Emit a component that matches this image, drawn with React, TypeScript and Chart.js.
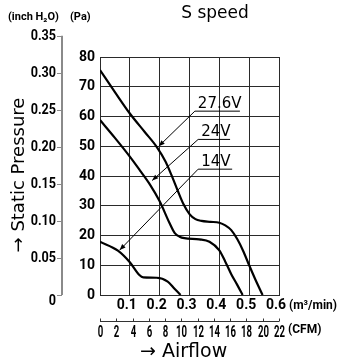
import React, { useEffect, useRef } from 'react';
import { Chart, registerables } from 'chart.js';

Chart.register(...registerables);

// Airflow (m³/min) and static pressure (Pa) for each supply voltage
const flow276 = [0, 0.05, 0.1, 0.15, 0.19, 0.22, 0.24, 0.26, 0.28, 0.3, 0.32, 0.34, 0.37, 0.4, 0.42, 0.44, 0.46, 0.48, 0.5, 0.52, 0.545];
const pa276 = [75.6, 68.2, 61, 54.8, 49.8, 44.8, 40.2, 35.2, 30.5, 27.2, 25.5, 24.9, 24.6, 24.3, 23.4, 21.8, 18.8, 14.8, 10, 5.4, 0];

const flow24 = [0, 0.05, 0.1, 0.133, 0.167, 0.2, 0.233, 0.25, 0.267, 0.283, 0.333, 0.367, 0.4, 0.42, 0.44, 0.46, 0.478];
const pa24 = [58.8, 52.8, 46.5, 42, 37.2, 31.5, 24.2, 20.9, 19.6, 19.1, 18.7, 17.9, 15, 11.2, 7, 3.4, 0];

const flow14 = [0, 0.06, 0.1, 0.132, 0.145, 0.19, 0.227, 0.249, 0.27];
const pa14 = [17.9, 14.9, 11, 6.7, 5.9, 5.8, 4.5, 2.2, 0];

const seriesNames = ['27.6V', '24V', '14V'];

// Axis ticks
const flowTicks = [0, 0.1, 0.2, 0.3, 0.4, 0.5, 0.6];
const flowTickLabels = ['', '0.1', '0.2', '0.3', '0.4', '0.5', '0.6'];
const paTicks = [0, 10, 20, 30, 40, 50, 60, 70, 80];
const paTickLabels = ['0', '10', '20', '30', '40', '50', '60', '70', '80'];
const inchTicks = [0, 0.05, 0.1, 0.15, 0.2, 0.25, 0.3, 0.35];
const inchTickLabels = ['0', '0.05', '0.10', '0.15', '0.20', '0.25', '0.30', '0.35'];
const cfmTicks = [0, 2, 4, 6, 8, 10, 12, 14, 16, 18, 20, 22];
const cfmTickLabels = ['0', '2', '4', '6', '8', '10', '12', '14', '16', '18', '20', '22'];

const PA_PER_INCH_H2O = 249.09;

// Callout placement in data units (underline start/end, arrow tip on the curve)
const callouts = [
  { name: seriesNames[0], lineFrom: [0.318, 61.8], lineTo: 0.469, tip: [0.197, 50] },
  { name: seriesNames[1], lineFrom: [0.329, 52.3], lineTo: 0.436, tip: [0.175, 38.5] },
  { name: seriesNames[2], lineFrom: [0.329, 42.3], lineTo: 0.443, tip: [0.066, 15.1] },
];

const NUM_FONT = 'Roboto, "Liberation Sans", sans-serif';
const TEXT_FONT = '"DejaVu Sans", "Liberation Sans", sans-serif';
const GRID = '#2a2a2a';

const toPoints = (xs: number[], ys: number[]) => xs.map((x, i) => ({ x, y: ys[i] }));

// Draws text squeezed horizontally, for the condensed numeral style
const condensedText = (ctx: CanvasRenderingContext2D, text: string, x: number, y: number, squeeze: number) => {
  ctx.save();
  ctx.translate(x, y);
  ctx.scale(squeeze, 1);
  ctx.fillText(text, 0, 0);
  ctx.restore();
};

const decorations = {
  id: 'fanCurveDecorations',
  afterDraw(chart: any) {
    const { ctx, chartArea } = chart;
    const xs = chart.scales.x;
    const ys = chart.scales.y;
    const cs = chart.scales.cfm;
    ctx.save();
    ctx.fillStyle = '#000';

    // Title
    ctx.font = `17px ${TEXT_FONT}`;
    ctx.textAlign = 'center';
    ctx.textBaseline = 'middle';
    ctx.fillText('S speed', 215, 14);

    // Unit captions
    ctx.font = `bold 11px ${NUM_FONT}`;
    ctx.textAlign = 'left';
    ctx.fillText('(inch H₂O)', 8, 17);
    ctx.fillText('(Pa)', 70, 17);
    ctx.font = `bold 12px ${NUM_FONT}`;
    ctx.fillText('(m³/min)', 289, 306);
    ctx.fillText('(CFM)', 288, 330);

    // Secondary pressure axis in inch H2O, mapped through the Pa scale
    const axisX = 62;
    const yTop = ys.getPixelForValue(inchTicks[inchTicks.length - 1] * PA_PER_INCH_H2O);
    const yBot = ys.getPixelForValue(0);
    ctx.strokeStyle = '#8a8a8a';
    ctx.lineWidth = 2;
    ctx.beginPath();
    ctx.moveTo(axisX, yTop);
    ctx.lineTo(axisX, yBot);
    ctx.stroke();
    ctx.lineWidth = 1;
    ctx.font = `bold 14px ${NUM_FONT}`;
    ctx.textAlign = 'right';
    inchTicks.forEach((v, i) => {
      const py = Math.round(ys.getPixelForValue(v * PA_PER_INCH_H2O)) + 0.5;
      ctx.beginPath();
      ctx.moveTo(axisX - 5, py);
      ctx.lineTo(axisX, py);
      ctx.stroke();
      condensedText(ctx, inchTickLabels[i], 56, py + (v === 0 ? 6 : 0), 0.9);
    });

    // CFM airflow axis below the m³/min axis
    const cfmY = Math.round(chartArea.bottom + 26) + 0.5;
    ctx.strokeStyle = '#333';
    ctx.beginPath();
    ctx.moveTo(cs.getPixelForValue(0), cfmY);
    ctx.lineTo(cs.getPixelForValue(cfmTicks[cfmTicks.length - 1]), cfmY);
    ctx.stroke();
    ctx.font = `bold 16px ${NUM_FONT}`;
    ctx.textAlign = 'center';
    cfmTicks.forEach((v, i) => {
      const px = Math.round(cs.getPixelForValue(v)) + 0.5;
      ctx.beginPath();
      ctx.moveTo(px, cfmY);
      ctx.lineTo(px, cfmY - 3);
      ctx.stroke();
      condensedText(ctx, cfmTickLabels[i], px, cfmY + 11, 0.6);
    });

    // Axis titles
    ctx.font = `19px ${TEXT_FONT}`;
    ctx.textAlign = 'left';
    ctx.fillText('→ Airflow', 140, 352);
    ctx.font = `18px ${TEXT_FONT}`;
    ctx.save();
    ctx.translate(19, 175);
    ctx.rotate(-Math.PI / 2);
    ctx.textAlign = 'center';
    ctx.fillText('→ Static Pressure', 0, 0);
    ctx.restore();

    // Voltage callouts with leader arrows
    ctx.font = `15px ${TEXT_FONT}`;
    ctx.textAlign = 'left';
    ctx.textBaseline = 'alphabetic';
    ctx.strokeStyle = '#000';
    ctx.lineWidth = 1;
    callouts.forEach((c) => {
      const x0 = xs.getPixelForValue(c.lineFrom[0]);
      const y0 = ys.getPixelForValue(c.lineFrom[1]);
      const x1 = xs.getPixelForValue(c.lineTo);
      const tx = xs.getPixelForValue(c.tip[0]);
      const ty = ys.getPixelForValue(c.tip[1]);
      ctx.beginPath();
      ctx.moveTo(x1, y0);
      ctx.lineTo(x0, y0);
      ctx.lineTo(tx, ty);
      ctx.stroke();
      const ang = Math.atan2(ty - y0, tx - x0);
      const len = 6;
      const half = 2.4;
      ctx.beginPath();
      ctx.moveTo(tx, ty);
      ctx.lineTo(tx - len * Math.cos(ang) + half * Math.sin(ang), ty - len * Math.sin(ang) - half * Math.cos(ang));
      ctx.lineTo(tx - len * Math.cos(ang) - half * Math.sin(ang), ty - len * Math.sin(ang) + half * Math.cos(ang));
      ctx.closePath();
      ctx.fill();
      ctx.fillText(c.name, x0 + 3, y0 - 3);
    });

    ctx.restore();
  },
};

export default function App() {
  const ref = useRef<HTMLCanvasElement>(null);

  useEffect(() => {
    if (!ref.current) return;
    const curve = (label: string, xs: number[], ys: number[]) => ({
      label,
      data: toPoints(xs, ys),
      borderColor: '#000',
      borderWidth: 2.2,
      pointRadius: 0,
      fill: false,
      cubicInterpolationMode: 'monotone' as const,
    });
    const chart = new Chart(ref.current, {
      type: 'line',
      data: {
        datasets: [
          curve(seriesNames[0], flow276, pa276),
          curve(seriesNames[1], flow24, pa24),
          curve(seriesNames[2], flow14, pa14),
        ],
      },
      options: {
        animation: false,
        responsive: false,
        devicePixelRatio: 1,
        layout: { padding: { left: 60, top: 57, right: 68, bottom: 46 } },
        plugins: {
          legend: { display: false },
          tooltip: { enabled: false },
          title: { display: false },
        },
        scales: {
          x: {
            type: 'linear',
            position: 'bottom',
            min: 0,
            max: 0.6,
            afterFit: (s: any) => { s.height = 22; },
            afterBuildTicks: (s: any) => { s.ticks = flowTicks.map((value) => ({ value })); },
            ticks: {
              callback: (_v: any, i: number) => flowTickLabels[i],
              color: '#000',
              font: { family: NUM_FONT, size: 14, weight: 'bold' },
              padding: 2,
              labelOffset: -3,
              maxRotation: 0,
              autoSkip: false,
            },
            grid: { color: GRID, lineWidth: 1, drawTicks: false },
            border: { color: GRID, width: 1 },
          },
          y: {
            type: 'linear',
            position: 'left',
            min: 0,
            max: 80,
            afterFit: (s: any) => { s.width = 40; },
            afterBuildTicks: (s: any) => { s.ticks = paTicks.map((value) => ({ value })); },
            ticks: {
              callback: (_v: any, i: number) => paTickLabels[i],
              color: '#000',
              font: { family: NUM_FONT, size: 14, weight: 'bold' },
              padding: 5,
              autoSkip: false,
            },
            grid: { color: GRID, lineWidth: 1, drawTicks: false },
            border: { color: GRID, width: 1 },
          },
          cfm: {
            type: 'linear',
            axis: 'x',
            position: 'bottom',
            min: 0,
            max: 22,
            display: false,
          },
        },
      },
      plugins: [decorations],
    });
    return () => chart.destroy();
  }, []);

  return (
    <div style={{ position: 'fixed', left: 0, top: 0, width: 347, height: 363, background: '#fff' }}>
      <canvas ref={ref} width={347} height={363} style={{ width: 347, height: 363, display: 'block' }} />
    </div>
  );
}
